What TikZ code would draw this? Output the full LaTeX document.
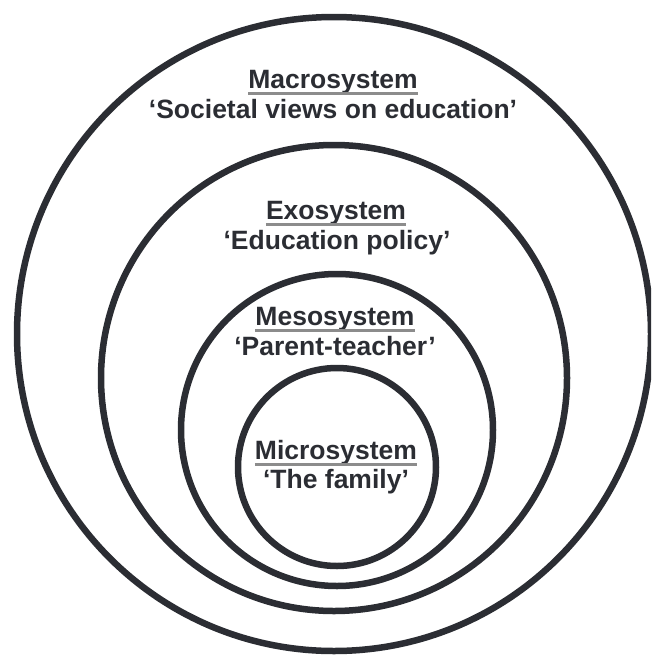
\documentclass[tikz,border=0pt]{standalone}
\usepackage{fontspec}
\setmainfont{Liberation Sans}
\definecolor{ink}{HTML}{2B2D33}
\definecolor{ulgray}{HTML}{8C8C8C}
\begin{document}
\begin{tikzpicture}[x=1pt,y=-1pt,
  ring/.style={circle, draw=ink, line width=6.5pt, inner sep=0pt, outer sep=0pt},
  title/.style={anchor=base, inner sep=0pt, text=ink, font=\fontsize{26.5}{30}\selectfont\bfseries},
  sub/.style={anchor=base, inner sep=0pt, text=ink, font=\fontsize{26.5}{30}\selectfont\bfseries},
  ul/.style={draw=ulgray, line width=3pt}]
\useasboundingbox (0,0) rectangle (651,656);
\begin{scope}
\clip (0,0) rectangle (651,656);
\node[ring, minimum size=634pt] (macro) at (334,334) {};
\node[ring, minimum size=466pt] (exo) at (334,378) {};
\node[ring, minimum size=312pt] (meso) at (337,430) {};
\node[ring, minimum size=198pt] (micro) at (337,467) {};
\end{scope}
\node[title] (t1) at (333,88) {Macrosystem};
\node[sub] (s1) at (333,118) {‘Societal views on education’};
\node[title] (t2) at (336,219) {Exosystem};
\node[sub] (s2) at (337,249) {‘Education policy’};
\node[title] (t3) at (335,325) {Mesosystem};
\node[sub] (s3) at (335,355) {‘Parent-teacher’};
\node[title] (t4) at (336,459) {Microsystem};
\node[sub] (s4) at (336,488) {‘The family’};
\foreach \t in {t1,t2,t3,t4}{
  \draw[ul] ([yshift=-5pt]\t.base west) -- ([yshift=-5pt]\t.base east);
}
\end{tikzpicture}
\end{document}
